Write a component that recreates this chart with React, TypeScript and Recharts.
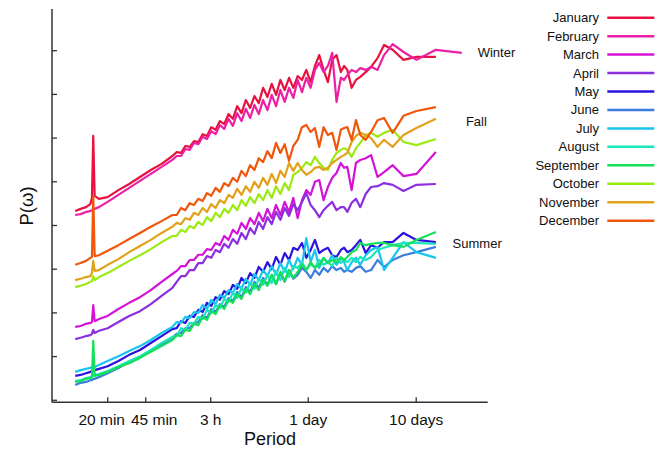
import React from 'react';
import { LineChart, Line, XAxis, YAxis, Legend, ReferenceDot, Customized } from 'recharts';

// log10 of the period in minutes
const logPeriod = [
  1.00, 1.05, 1.10, 1.14, 1.155, 1.167, 1.18, 1.22, 1.30, 1.40, 1.50, 1.60, 1.70, 1.80, 1.90,
  1.94, 1.98, 2.02, 2.06, 2.10, 2.14, 2.18, 2.22, 2.26, 2.30, 2.34, 2.38, 2.42, 2.46, 2.50,
  2.54, 2.58, 2.62, 2.66, 2.70, 2.74, 2.78, 2.82, 2.86, 2.90, 2.94, 2.98, 3.02, 3.06, 3.10,
  3.14, 3.18, 3.22, 3.26, 3.30, 3.34, 3.38, 3.42, 3.46,
  3.49, 3.52, 3.56, 3.60, 3.64, 3.69, 3.74, 3.80, 3.86, 3.94, 4.04, 4.16, 4.34, 4.58,
];

// log10 P(omega), arbitrary units, one array per month
const january = [
  4.33, 4.38, 4.42, 4.49, 4.63, 6.05, 4.68, 4.61, 4.65, 4.81, 4.95, 5.11, 5.27, 5.41, 5.59,
  5.68, 5.66, 5.82, 5.80, 5.93, 5.91, 6.09, 6.05, 6.25, 6.19, 6.39, 6.32, 6.55, 6.44, 6.73,
  6.57, 6.87, 6.69, 6.96, 6.80, 7.15, 6.94, 7.24, 6.99, 7.33, 7.10, 7.38, 7.15, 7.42, 7.33,
  7.56, 7.28, 7.65, 7.90, 7.56, 7.28, 7.79, 7.90, 7.51,
  7.65, 7.56, 7.15, 7.33, 7.40, 7.51, 7.63, 7.83, 8.13, 8.02, 7.79, 7.86, 7.86, null,
];
const february = [
  4.24, 4.26, 4.31, 4.33, 4.35, 4.38, 4.38, 4.42, 4.54, 4.70, 4.86, 5.02, 5.18, 5.34, 5.50,
  5.59, 5.59, 5.75, 5.73, 5.89, 5.86, 6.03, 5.98, 6.16, 6.09, 6.30, 6.21, 6.44, 6.28, 6.57,
  6.39, 6.67, 6.46, 6.76, 6.55, 6.87, 6.64, 6.99, 6.73, 7.10, 6.83, 7.15, 6.92, 7.33, 7.05,
  7.38, 7.15, 7.56, 7.72, 7.51, 7.65, 7.95, 6.83, 7.38,
  7.33, 7.44, 7.56, 7.51, 7.60, 7.56, 7.63, 7.56, 7.90, 8.15, 7.97, 7.79, 8.02, 7.95,
];
const march = [
  1.68, 1.70, 1.75, 1.77, 1.79, 2.18, 1.81, 1.86, 1.93, 2.09, 2.23, 2.36, 2.52, 2.71, 2.89,
  2.96, 3.07, 3.07, 3.21, 3.21, 3.33, 3.33, 3.46, 3.44, 3.60, 3.55, 3.76, 3.67, 3.90, 3.81,
  4.06, 3.92, 4.17, 4.03, 4.29, 4.10, 4.38, 4.17, 4.47, 4.24, 4.54, 4.31, 4.63, 4.17, 4.58,
  4.81, 4.70, 5.00, 5.04, 4.58, 4.88, 5.09, 5.20, 5.43,
  5.32, 5.34, 4.81, 5.43, 5.50, 5.54, 5.61, 5.11, 5.22, 5.38, 5.13, 5.18, 5.68, null,
];
const april = [
  1.40, 1.43, 1.47, 1.49, 1.52, 1.61, 1.54, 1.59, 1.65, 1.79, 1.93, 2.04, 2.20, 2.39, 2.57,
  2.71, 2.84, 2.84, 2.98, 2.98, 3.14, 3.14, 3.30, 3.26, 3.44, 3.39, 3.58, 3.49, 3.69, 3.58,
  3.83, 3.69, 3.94, 3.81, 4.08, 3.92, 4.19, 4.03, 4.31, 4.13, 4.40, 4.22, 4.49, 4.35, 4.54,
  4.74, 4.47, 4.35, 4.19, 4.35, 4.45, 4.54, 4.35, 4.42,
  4.42, 4.31, 4.52, 4.61, 4.42, 4.72, 4.88, 4.90, 4.97, 4.93, 4.79, 4.93, 4.95, null,
];
const may = [
  0.56, 0.58, 0.62, 0.65, 0.67, 0.67, 0.69, 0.72, 0.78, 0.90, 1.04, 1.15, 1.31, 1.47, 1.63,
  1.65, 1.81, 1.77, 1.93, 1.91, 2.07, 2.02, 2.23, 2.16, 2.36, 2.30, 2.50, 2.43, 2.64, 2.55,
  2.80, 2.68, 2.91, 2.80, 3.05, 2.94, 3.16, 3.00, 3.28, 3.10, 3.37, 3.21, 3.49, 3.44, 3.60,
  3.26, 3.44, 3.67, 3.37, 3.44, 3.49, 3.32, 3.28, 3.44,
  3.49, 3.39, 3.44, 3.55, 3.67, 3.37, 3.55, 3.49, 3.62, 3.62, 3.83, 3.67, 3.62, null,
];
const june = [
  0.35, 0.40, 0.42, 0.46, 0.46, 0.49, 0.49, 0.53, 0.62, 0.74, 0.88, 0.99, 1.13, 1.27, 1.43,
  1.52, 1.54, 1.65, 1.65, 1.77, 1.79, 1.95, 1.88, 2.09, 2.02, 2.20, 2.14, 2.34, 2.27, 2.48,
  2.36, 2.59, 2.48, 2.71, 2.57, 2.80, 2.64, 2.87, 2.66, 2.91, 2.71, 2.98, 2.78, 2.87, 3.03,
  2.94, 2.80, 2.98, 2.87, 3.03, 2.94, 3.07, 2.98, 3.03,
  2.94, 2.98, 2.94, 3.03, 3.07, 2.94, 2.98, 3.21, 3.05, 3.21, 3.32, 3.39, 3.51, null,
];
const july = [
  0.65, 0.69, 0.72, 0.74, 0.76, 0.76, 0.76, 0.81, 0.90, 1.01, 1.13, 1.24, 1.38, 1.54, 1.68,
  1.79, 1.77, 1.91, 1.88, 2.02, 2.00, 2.18, 2.09, 2.30, 2.20, 2.41, 2.34, 2.52, 2.46, 2.66,
  2.55, 2.78, 2.64, 2.89, 2.75, 2.98, 2.84, 3.07, 2.87, 3.14, 2.94, 3.21, 3.00, 3.26, 3.10,
  3.71, 3.16, 3.44, 3.03, 3.26, 3.14, 3.32, 3.10, 3.26,
  3.16, 2.98, 3.16, 3.26, 3.10, 3.32, 3.44, 3.51, 2.98, 3.26, 3.62, 3.39, 3.26, null,
];
const august = [
  0.44, 0.46, 0.51, 0.53, 0.56, 0.56, 0.58, 0.60, 0.67, 0.78, 0.90, 1.01, 1.15, 1.31, 1.45,
  1.47, 1.65, 1.61, 1.77, 1.75, 1.91, 1.86, 2.07, 2.00, 2.18, 2.11, 2.32, 2.25, 2.46, 2.34,
  2.57, 2.46, 2.68, 2.55, 2.78, 2.64, 2.87, 2.68, 2.96, 2.75, 3.03, 2.82, 3.07, 3.03, 3.16,
  2.98, 3.12, 3.03, 3.21, 3.10, 3.16, 3.07, 3.26, 3.14,
  3.21, 3.16, 3.26, 3.16, 3.28, 3.21, 3.28, 3.44, 3.49, 3.55, 3.60, 3.60, 3.58, null,
];
const september = [
  0.42, 0.44, 0.49, 0.51, 0.53, 1.36, 0.56, 0.58, 0.65, 0.76, 0.85, 0.97, 1.11, 1.24, 1.38,
  1.49, 1.47, 1.61, 1.59, 1.75, 1.72, 1.91, 1.84, 2.04, 1.97, 2.18, 2.09, 2.30, 2.23, 2.43,
  2.32, 2.55, 2.43, 2.66, 2.52, 2.75, 2.62, 2.87, 2.66, 2.94, 2.73, 2.98, 2.80, 2.94, 3.10,
  2.98, 3.16, 3.03, 3.10, 3.26, 3.14, 3.21, 3.16, 3.28,
  3.21, 3.28, 3.39, 3.44, 3.60, 3.55, 3.58, 3.60, 3.60, 3.55, 3.51, 3.67, 3.85, null,
];
const october = [
  2.59, 2.62, 2.66, 2.71, 2.73, 2.84, 2.75, 2.82, 2.91, 3.05, 3.19, 3.32, 3.46, 3.62, 3.76,
  3.76, 3.90, 3.85, 3.99, 3.94, 4.08, 4.01, 4.19, 4.10, 4.29, 4.19, 4.38, 4.29, 4.47, 4.35,
  4.58, 4.45, 4.65, 4.51, 4.72, 4.58, 4.81, 4.63, 4.90, 4.72, 4.97, 4.81, 5.16, 5.22, 5.32,
  5.45, 5.38, 5.57, 5.43, 5.32, 5.27, 5.50, 5.66, 5.73,
  5.77, 5.73, 5.57, 5.77, 5.89, 6.07, 6.12, 6.03, 6.12, 6.19, 5.91, 5.84, 5.98, null,
];
const november = [
  2.75, 2.78, 2.82, 2.84, 2.91, 3.19, 2.96, 2.98, 3.10, 3.23, 3.39, 3.53, 3.67, 3.83, 3.97,
  4.06, 4.03, 4.17, 4.13, 4.29, 4.24, 4.40, 4.31, 4.49, 4.40, 4.58, 4.51, 4.70, 4.63, 4.84,
  4.70, 4.90, 4.77, 5.00, 4.86, 5.09, 4.93, 5.18, 4.97, 5.25, 5.11, 5.43, 5.25, 5.43, 5.27,
  5.16, 5.22, 5.32, 5.34, 5.27, 5.32, 5.43, 5.50, 5.57,
  5.61, 5.66, 5.91, 6.05, 6.12, 6.07, 6.00, 5.80, 5.96, 5.80, 6.07, 6.23, 6.44, null,
];
const december = [
  3.10, 3.14, 3.19, 3.26, 3.28, 4.68, 3.30, 3.32, 3.42, 3.55, 3.69, 3.83, 3.97, 4.10, 4.24,
  4.24, 4.40, 4.35, 4.51, 4.47, 4.61, 4.56, 4.74, 4.68, 4.86, 4.77, 4.97, 4.90, 5.09, 5.00,
  5.25, 5.13, 5.38, 5.27, 5.54, 5.45, 5.70, 5.54, 5.89, 5.66, 5.86, 5.48, 5.82, 5.96, 6.25,
  6.30, 6.14, 6.23, 5.80, 6.25, 6.07, 6.12, 5.73, 6.19,
  6.23, 6.25, 5.96, 6.41, 6.07, 5.96, 6.14, 6.41, 6.46, 6.12, 6.51, 6.62, 6.71, null,
];

const months = [
  'January', 'February', 'March', 'April', 'May', 'June',
  'July', 'August', 'September', 'October', 'November', 'December',
];
const monthSeries = [
  january, february, march, april, may, june,
  july, august, september, october, november, december,
];
const monthColors = [
  '#e8113f', '#ec1fa5', '#d412d8', '#8b2fe0', '#2b12e0', '#3b7cde',
  '#17c5ee', '#1be6bc', '#16e05a', '#9aeb10', '#e3a11a', '#f0560c',
];

const periodTicks = [1.301, 1.653, 2.255, 3.158, 4.158];
const periodTickLabels = ['20 min', '45 min', '3 h', '1 day', '10 days'];
const powerTicks = [0, 1, 2, 3, 4, 5, 6, 7, 8];

const seasonNames = ['Winter', 'Fall', 'Summer'];
const seasonPeriods = [4.727, 4.618, 4.495];
const seasonPowers = [7.95, 6.39, 3.58];

const rows = logPeriod.map((p, i) => {
  const row: Record<string, number | null> = { period: p };
  months.forEach((m, k) => {
    row[m] = monthSeries[k][i];
  });
  return row;
});

const FONT = '"Liberation Sans", Arial, Helvetica, sans-serif';
const AXIS = '#333';

const XTick = (props: any) => {
  const { x, y, payload } = props;
  const idx = periodTicks.indexOf(payload.value);
  const label = periodTickLabels[idx] ?? '';
  const shift = label === '20 min' ? -6 : label === '45 min' ? 8.5 : 0;
  return (
    <g>
      <line x1={x} x2={x} y1={y} y2={y - 5} stroke={AXIS} strokeWidth={1.3} />
      <text x={x + shift} y={y + 23} textAnchor="middle" fontSize={15.5} fill="#111">
        {label}
      </text>
    </g>
  );
};

const YTick = (props: any) => {
  const { x, y } = props;
  return <line x1={x} x2={x + 5} y1={y} y2={y} stroke={AXIS} strokeWidth={1.3} />;
};

const AxisTitles = () => (
  <g>
    <text transform="translate(25.3,198) rotate(-90)" textAnchor="middle" fontSize={18.5} fill="#111">
      P(ω)
    </text>
    <text x={262} y={436.5} textAnchor="middle" fontSize={18} fill="#111">
      Period
    </text>
  </g>
);

const LegendBox = () => (
  <svg width={155} height={232} style={{ fontFamily: FONT, display: 'block' }}>
    {months.map((m, i) => {
      const cy = 9.7 + 18.45 * i;
      return (
        <g key={m}>
          <text x={91} y={cy + 4.5} textAnchor="end" fontSize={13} fill="#111">
            {m}
          </text>
          <line x1={99.3} x2={146.3} y1={cy} y2={cy} stroke={monthColors[i]} strokeWidth={2.5} />
        </g>
      );
    })}
  </svg>
);

export default function App() {
  return (
    <LineChart
      width={655}
      height={441}
      data={rows}
      margin={{ top: 1, right: 175.3, bottom: 0, left: 0 }}
      style={{ fontFamily: FONT }}
    >
      <XAxis
        dataKey="period"
        type="number"
        domain={[0.785, 4.82]}
        allowDataOverflow
        ticks={periodTicks}
        interval={0}
        tick={XTick}
        tickLine={false}
        tickSize={0}
        tickMargin={0}
        height={46.7}
        axisLine={{ stroke: AXIS, strokeWidth: 1.5 }}
      />
      <YAxis
        type="number"
        domain={[-0.046, 8.954]}
        allowDataOverflow
        ticks={powerTicks}
        interval={0}
        tick={YTick}
        tickLine={false}
        tickSize={0}
        tickMargin={0}
        width={44}
        axisLine={{ stroke: AXIS, strokeWidth: 1.5 }}
      />
      {months.map((m, i) => (
        <Line
          key={m}
          dataKey={m}
          type="linear"
          stroke={monthColors[i]}
          strokeWidth={2.2}
          strokeLinejoin="round"
          dot={false}
          activeDot={false}
          isAnimationActive={false}
        />
      ))}
      {seasonNames.map((s, i) => (
        <ReferenceDot
          key={s}
          x={seasonPeriods[i]}
          y={seasonPowers[i]}
          r={0}
          fill="none"
          stroke="none"
          label={{ value: s, position: 'right', offset: 0, fontSize: 13, fill: '#111' }}
        />
      ))}
      <Customized component={AxisTitles} />
      <Legend
        layout="vertical"
        align="center"
        verticalAlign="middle"
        wrapperStyle={{ left: 500, top: 0, width: 155, height: 232 }}
        content={LegendBox}
      />
    </LineChart>
  );
}
